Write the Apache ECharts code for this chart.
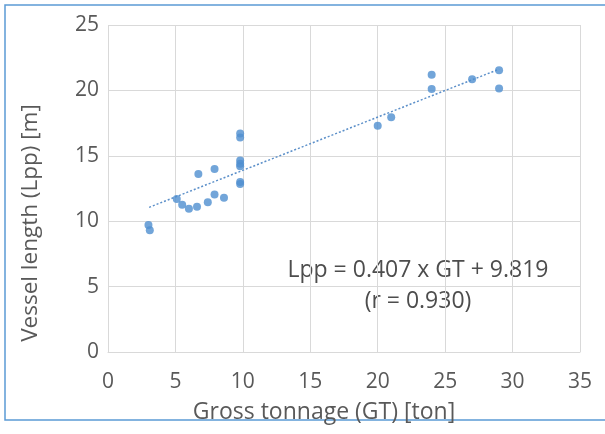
<!DOCTYPE html>
<html>
<head>
<meta charset="utf-8">
<script src="https://cdn.jsdelivr.net/npm/echarts@6/dist/echarts.min.js"></script>
<style>
html,body{margin:0;padding:0;background:#fff;}
#chart{width:605px;height:434px;}
</style>
</head>
<body>
<div id="chart"></div>
<script>
// Gross tonnage (GT) [ton]
var gt = [3.0, 3.1, 5.1, 5.5, 6.0, 6.6, 6.7, 7.4, 7.9, 7.9, 8.6, 9.8, 9.8, 9.8, 9.8, 9.8, 9.8, 9.8, 20.0, 21.0, 24.0, 24.0, 27.0, 29.0, 29.0];
// Vessel length (Lpp) [m]
var lpp = [9.7, 9.3, 11.7, 11.25, 10.95, 11.1, 13.6, 11.45, 14.0, 12.05, 11.8, 16.7, 16.4, 14.65, 14.4, 14.2, 13.0, 12.85, 17.3, 17.95, 21.2, 20.1, 20.85, 21.55, 20.15];
var slope = 0.407, intercept = 9.819;
var trendX = [3.05, 29.0];
var xTicks = [0, 5, 10, 15, 20, 25, 30, 35];
var yTicks = [0, 5, 10, 15, 20, 25];

var pts = gt.map(function (x, i) { return [x, lpp[i]]; });
var trend = trendX.map(function (x) { return [x, slope * x + intercept]; });

var chart = echarts.init(document.getElementById('chart'));
var font = 'Open Sans';
chart.setOption({
  backgroundColor: '#fff',
  animation: false,
  grid: { left: 108, right: 25, top: 25, bottom: 82 },
  xAxis: {
    type: 'value', min: 0, max: 35, interval: 5,
    axisLine: { show: true, lineStyle: { color: '#d9d9d9' } },
    axisTick: { show: false },
    splitLine: { show: true, lineStyle: { color: '#d9d9d9', width: 1 } },
    axisLabel: { color: '#595959', fontFamily: font, fontSize: 21, margin: 20 }
  },
  yAxis: {
    type: 'value', min: 0, max: 25, interval: 5,
    axisLine: { show: false },
    axisTick: { show: false },
    splitLine: { show: true, lineStyle: { color: '#d9d9d9', width: 1 } },
    axisLabel: { color: '#595959', fontFamily: font, fontSize: 21, margin: 9 }
  },
  graphic: [
    { type: 'rect', silent: true, shape: { x: 5, y: 5, width: 620, height: 415 },
      style: { fill: 'none', stroke: '#5b9bd5', lineWidth: 1.5 } },
    { type: 'text', x: 324, y: 412,
      style: { text: 'Gross tonnage (GT) [ton]', fill: '#595959', font: '23px "Open Sans"', align: 'center', verticalAlign: 'middle' } },
    { type: 'text', x: 31, y: 223, rotation: Math.PI / 2,
      style: { text: 'Vessel length (Lpp) [m]', fill: '#595959', font: '22.5px "Open Sans"', align: 'center', verticalAlign: 'middle' } },
    { type: 'text', x: 418, y: 270,
      style: { text: 'Lpp = 0.407 x GT + 9.819', fill: '#4d4d4d', font: '23px "Open Sans"', align: 'center', verticalAlign: 'middle' } },
    { type: 'text', x: 418, y: 301,
      style: { text: '(r = 0.930)', fill: '#4d4d4d', font: '23px "Open Sans"', align: 'center', verticalAlign: 'middle' } }
  ],
  series: [
    { type: 'line', data: trend, showSymbol: false, symbol: 'none', silent: true,
      lineStyle: { color: '#5b8fc9', width: 1.5, type: [2, 2] }, z: 2 },
    { type: 'scatter', data: pts, symbol: 'circle', symbolSize: 8,
      itemStyle: { color: '#4f8fd0' }, z: 3 }
  ]
});
</script>
</body>
</html>
